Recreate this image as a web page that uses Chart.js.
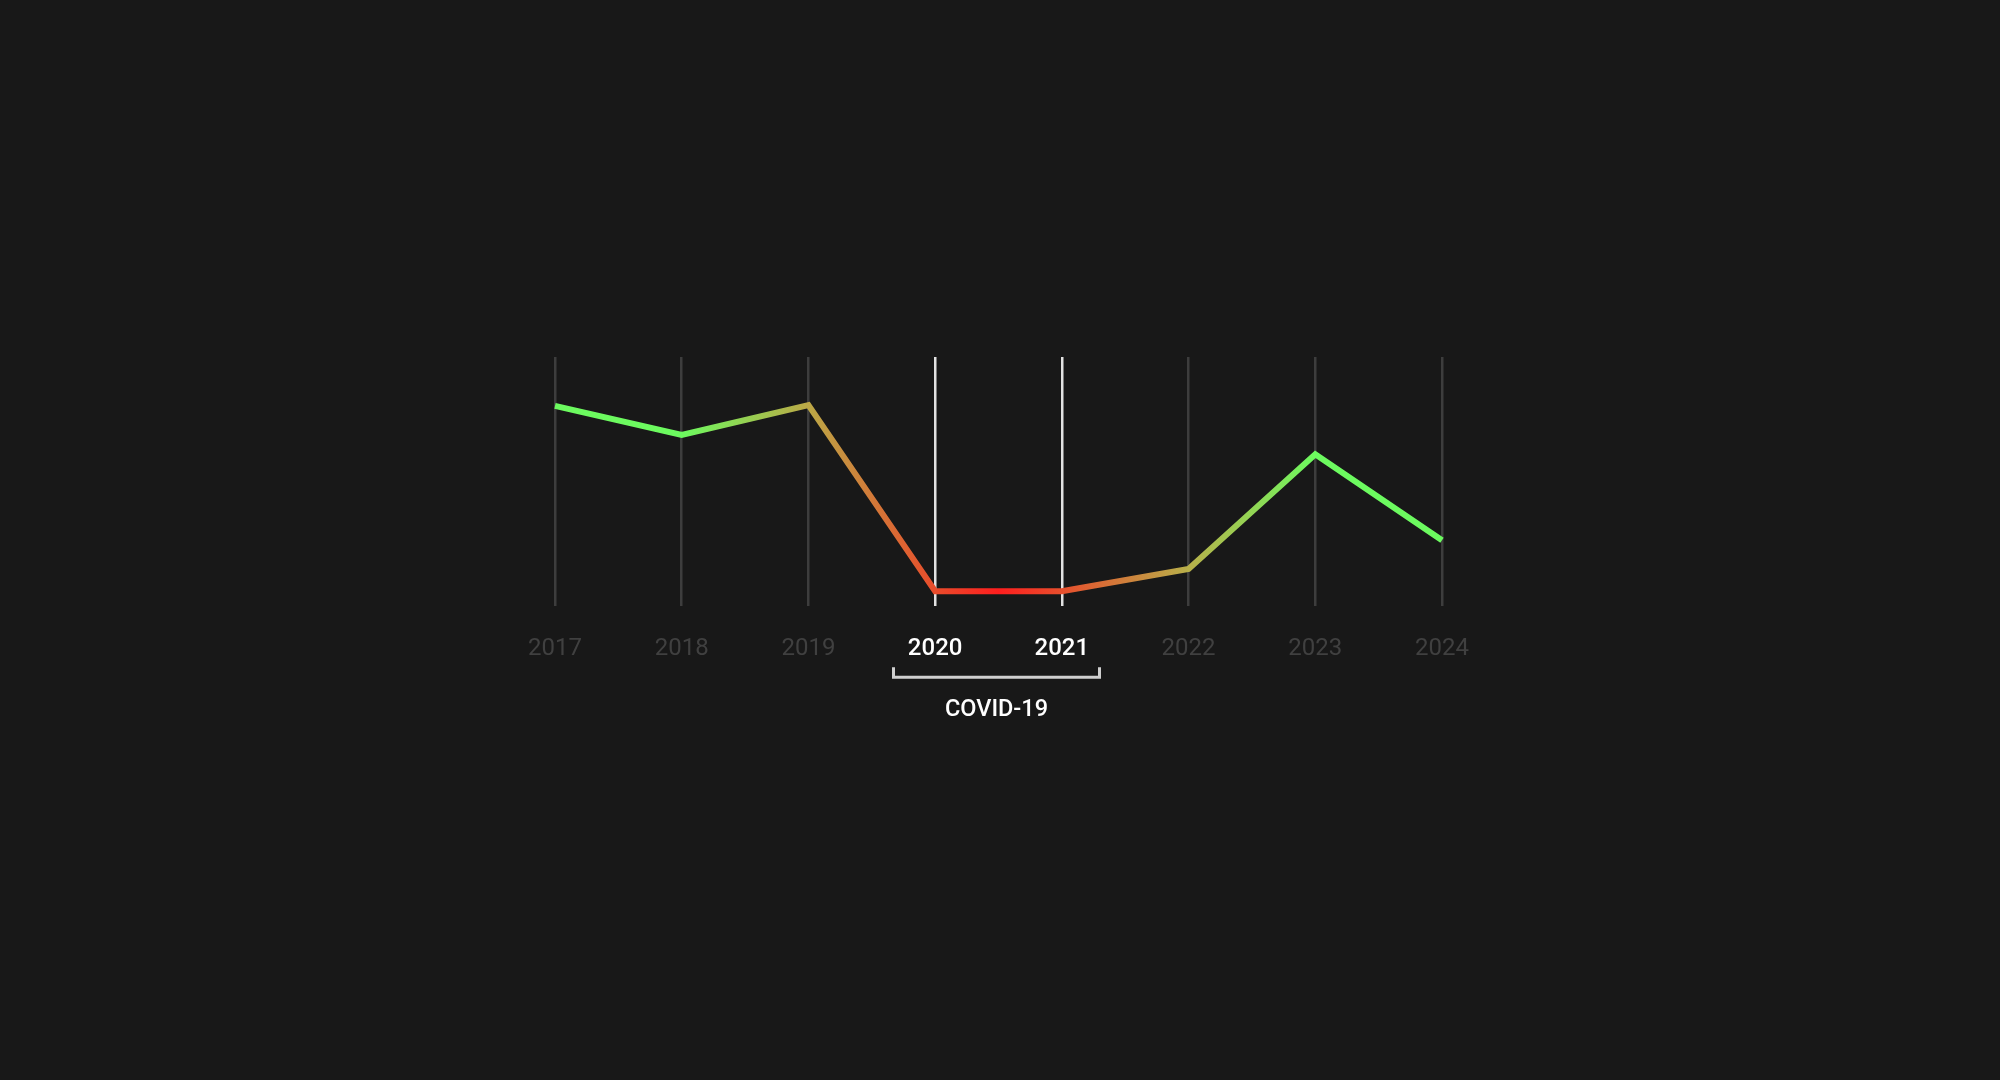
<!DOCTYPE html>
<html>
<head>
<meta charset="utf-8">
<script src="https://cdn.jsdelivr.net/npm/chart.js@4/dist/chart.umd.min.js"></script>
<style>
  html, body { margin: 0; padding: 0; background: #181818; }
  #wrap { width: 2000px; height: 1080px; }
</style>
</head>
<body>
<div id="wrap"><canvas id="c" width="2000" height="1080"></canvas></div>
<script>
const years = ['2017', '2018', '2019', '2020', '2021', '2022', '2023', '2024'];
const values = [80.4, 68.7, 80.7, 6.0, 6.0, 14.9, 61.0, 26.5];
const highlightYears = ['2020', '2021'];
const bracketLabel = 'COVID-19';
const gradientStops = [
  [0, '#6cfa5f'],
  [1 / 7, '#6cfa5f'],
  [2 / 7, '#bca846'],
  [3.5 / 7, '#ff1e1e'],
  [5 / 7, '#b8b04a'],
  [6 / 7, '#6cfa5f'],
  [1, '#6cfa5f']
];

const FONT = 'Roboto, "Open Sans", sans-serif';
const isHi = (i) => highlightYears.includes(years[i]);

function lineGradient(ctx) {
  const chart = ctx.chart;
  const ca = chart.chartArea;
  if (!ca) return '#6cfa5f';
  const g = chart.ctx.createLinearGradient(ca.left, 0, ca.right, 0);
  gradientStops.forEach(s => g.addColorStop(s[0], s[1]));
  return g;
}

const bracketPlugin = {
  id: 'bracket',
  afterDraw(chart) {
    const xs = chart.scales.x;
    const ctx = chart.ctx;
    const i0 = years.indexOf(highlightYears[0]);
    const i1 = years.indexOf(highlightYears[highlightYears.length - 1]);
    ctx.save();
    ctx.font = '500 24px ' + FONT;
    const w0 = ctx.measureText(years[i0]).width;
    const w1 = ctx.measureText(years[i1]).width;
    const left = Math.round(xs.getPixelForValue(i0) - w0 / 2 - 15) + 0.5;
    const right = Math.round(xs.getPixelForValue(i1) + w1 / 2 + 10) + 0.5;
    const yLine = chart.chartArea.bottom + 71;
    ctx.strokeStyle = '#cfcfcf';
    ctx.lineWidth = 3;
    ctx.lineCap = 'butt';
    ctx.lineJoin = 'miter';
    ctx.beginPath();
    ctx.moveTo(left, yLine - 10);
    ctx.lineTo(left, yLine);
    ctx.lineTo(right, yLine);
    ctx.lineTo(right, yLine - 10);
    ctx.stroke();
    ctx.fillStyle = '#ffffff';
    ctx.font = '500 23.5px ' + FONT;
    ctx.textAlign = 'center';
    ctx.textBaseline = 'middle';
    ctx.fillText(bracketLabel, (left + right) / 2, yLine + 33);
    ctx.restore();
  }
};

const bgPlugin = {
  id: 'bg',
  beforeDraw(chart) {
    const ctx = chart.ctx;
    ctx.save();
    ctx.fillStyle = '#181818';
    ctx.fillRect(0, 0, chart.width, chart.height);
    ctx.restore();
  }
};

new Chart(document.getElementById('c'), {
  type: 'line',
  data: {
    labels: years,
    datasets: [{
      data: values,
      borderColor: lineGradient,
      borderWidth: 6,
      borderJoinStyle: 'miter',
      borderCapStyle: 'butt',
      pointRadius: 0,
      pointHoverRadius: 0,
      tension: 0,
      fill: false
    }]
  },
  options: {
    responsive: false,
    animation: false,
    devicePixelRatio: 1,
    events: [],
    layout: { padding: { left: 555, right: 558, top: 357, bottom: 389 } },
    plugins: { legend: { display: false }, tooltip: { enabled: false } },
    scales: {
      x: {
        offset: false,
        border: { display: false },
        grid: {
          drawTicks: false,
          lineWidth: 2.5,
          color: (ctx) => isHi(ctx.index) ? '#e2e2e2' : '#3d3d3d'
        },
        ticks: {
          padding: 28,
          maxRotation: 0,
          autoSkip: false,
          color: (ctx) => isHi(ctx.index) ? '#ffffff' : '#404040',
          font: (ctx) => ({ family: FONT, size: 24, weight: isHi(ctx.index) ? '500' : 'normal' })
        }
      },
      y: {
        display: false,
        min: 0,
        max: 100
      }
    }
  },
  plugins: [bgPlugin, bracketPlugin]
});
</script>
</body>
</html>
